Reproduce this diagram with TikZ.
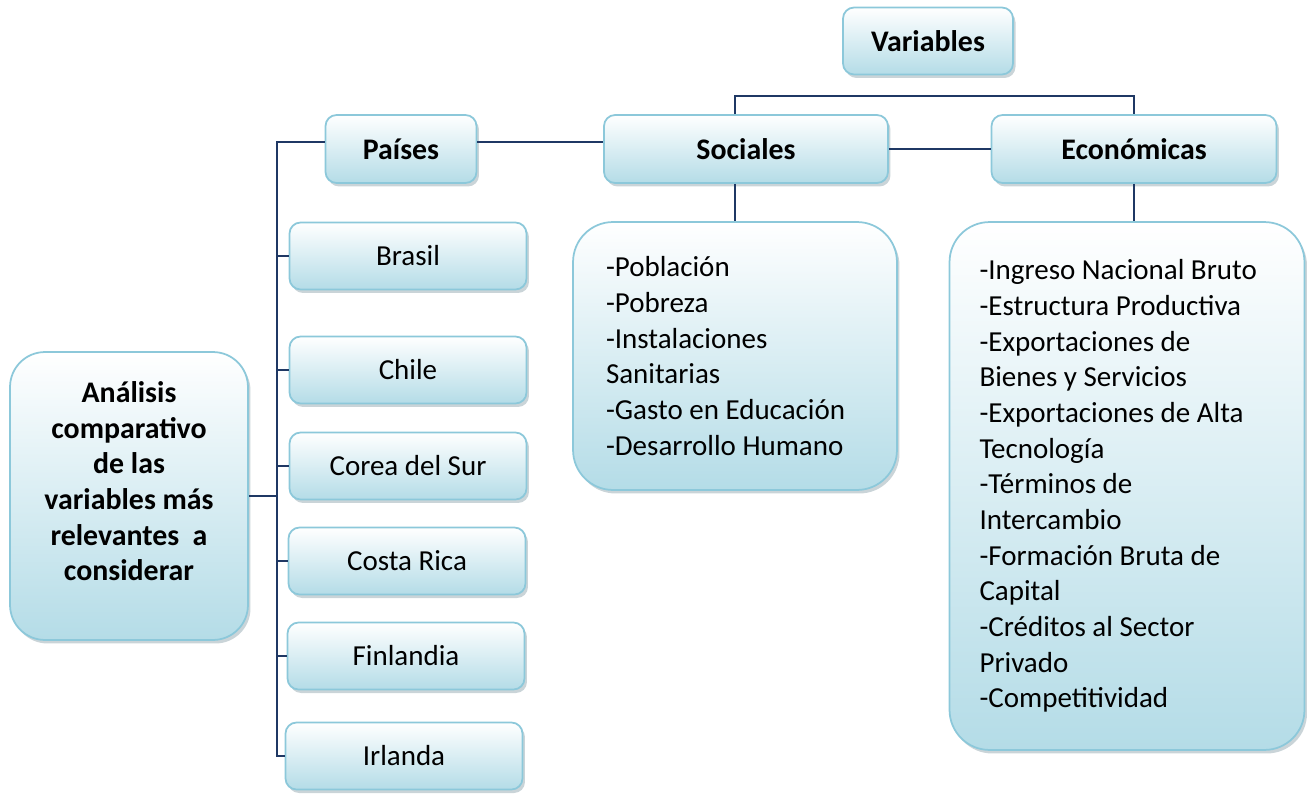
\documentclass[tikz,border=0pt]{standalone}
\usepackage{fontspec}
\setmainfont{Carlito}
\usetikzlibrary{shadows}
\definecolor{boxline}{RGB}{140,200,218}
\definecolor{boxfill}{RGB}{180,220,231}
\definecolor{boxshadow}{RGB}{150,170,178}
\definecolor{linkcol}{RGB}{31,56,100}
\begin{document}
\begin{tikzpicture}[x=0.02cm,y=-0.02cm,
  box/.style={draw=boxline, line width=1pt, top color=white, bottom color=boxfill,
    rounded corners=0.22cm, drop shadow={shadow xshift=0.05cm, shadow yshift=-0.07cm, fill=boxshadow},
    font=\fontsize{16.5}{20.3}\selectfont, align=center, inner sep=0pt},
  bigbox/.style={box, rounded corners=0.8cm},
  head/.style={box, font=\fontsize{17}{20.3}\selectfont\bfseries},
  link/.style={draw=linkcol, line width=1.1pt}]

  \useasboundingbox (0,0) rectangle (1307,794);

  % top boxes
  \node[head, minimum width=3.4cm, minimum height=1.34cm] (variables) at (928,41) {Variables};
  \node[head, minimum width=3.02cm, minimum height=1.36cm] (paises) at (401,149) {Países};
  \node[head, minimum width=5.68cm, minimum height=1.36cm] (sociales) at (746,149) {Sociales};
  \node[head, minimum width=5.7cm, minimum height=1.36cm] (economicas) at (1134,149) {Económicas};

  % lists
  \node[bigbox, minimum height=5.36cm, text width=5.16cm, inner xsep=0.66cm, align=flush left] (soclist) at (735,356)
    {-Población\\-Pobreza\\-Instalaciones\\Sanitarias\\-Gasto en Educación\\-Desarrollo Humano};
  \node[bigbox, minimum height=10.56cm, text width=5.9cm, inner xsep=0.6cm, align=flush left] (ecolist) at (1127,486)
    {-Ingreso Nacional Bruto\\-Estructura Productiva\\-Exportaciones de\\Bienes y Servicios\\-Exportaciones de Alta\\Tecnología\\-Términos de\\Intercambio\\-Formación Bruta de\\Capital\\-Créditos al Sector\\Privado\\-Competitividad};

  % left box
  \node[bigbox, rounded corners=0.7cm, minimum width=4.76cm, minimum height=5.76cm, font=\fontsize{17}{20.3}\selectfont\bfseries] (analisis) at (129,496)
    {Análisis\\comparativo\\de las\\variables más\\relevantes\ \ a\\considerar\\[-0.12cm]};

  % countries
  \foreach \x/\y/\name [count=\i] in {408/256/Brasil, 408/370/Chile, 408/466/Corea del Sur,
      407/561/Costa Rica, 406/656/Finlandia, 404/756/Irlanda}
    \node[box, minimum width=4.74cm, minimum height=1.34cm] (c\i) at (\x,\y) {\name};

  % connectors
  \coordinate (bus) at (277,142);
  \coordinate (bar) at (928,96);
  \draw[link] (sociales.north -| soclist.north) |- (bar) -| (economicas.north);
  \draw[link] ([yshift=0.14cm]paises.east) -- ([yshift=0.14cm]paises.east -| sociales.west);
  \draw[link] (sociales.east) -- (economicas.west);
  \draw[link] (sociales.south -| soclist.north) -- (soclist.north);
  \draw[link] (economicas.south) -- (economicas.south |- ecolist.north);
  \draw[link] (bus -| paises.west) -- (bus) |- (c6.west);
  \foreach \i in {1,...,5}
    \draw[link] (bus |- c\i.west) -- (c\i.west);
  \draw[link] (analisis.east) -- (analisis.east -| bus);
\end{tikzpicture}
\end{document}
